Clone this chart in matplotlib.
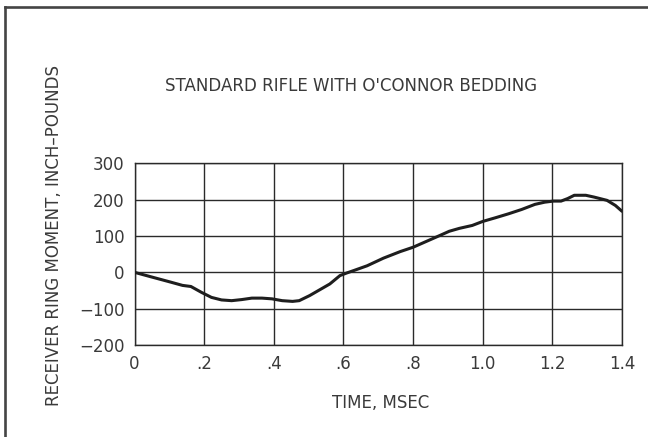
import matplotlib
matplotlib.use("Agg")
import matplotlib.pyplot as plt
from matplotlib.lines import Line2D

# ---- data ----
time_ms = [0, 0.046, 0.104, 0.138, 0.162, 0.192, 0.221, 0.25, 0.279, 0.308,
           0.337, 0.366, 0.395, 0.424, 0.454, 0.473, 0.503, 0.532, 0.561, 0.59,
           0.609, 0.63, 0.668, 0.715, 0.763, 0.8, 0.838, 0.876, 0.904, 0.933,
           0.97, 1.0, 1.036, 1.074, 1.112, 1.15, 1.178, 1.203, 1.225, 1.244,
           1.263, 1.296, 1.32, 1.357, 1.381, 1.4]
moment = [0, -12, -27, -36, -39, -55, -69, -76, -78, -75,
          -71, -71, -73, -78, -80, -78, -64, -48, -32, -9,
          -2, 5, 18, 39, 57, 69, 85, 101, 113, 121,
          129, 140, 150, 161, 173, 187, 193, 196, 196, 203,
          212, 212, 207, 198, 184, 168]
x_ticks = [0, 0.2, 0.4, 0.6, 0.8, 1.0, 1.2, 1.4]
x_tick_labels = ["0", ".2", ".4", ".6", ".8", "1.0", "1.2", "1.4"]
y_ticks = [-200, -100, 0, 100, 200, 300]
y_tick_labels = ["\u2212200", "\u2212100", "0", "100", "200", "300"]
title = "STANDARD RIFLE WITH O'CONNOR BEDDING"
xlabel = "TIME, MSEC"
ylabel = "RECEIVER RING MOMENT, INCH\u2013POUNDS"

FONT = ["DejaVu Sans"]
TXT = "#3a3a3a"
GRID = "#2a2a2a"

fig = plt.figure(figsize=(6.48, 4.37), dpi=100)
fig.patch.set_facecolor("white")

W, H = 648, 437
ax = fig.add_axes([134.5 / W, 1 - 345 / H, (622 - 134.5) / W, (345 - 163.3) / H])

ax.plot(time_ms, moment, color="#1e1e1e", lw=2.2, solid_capstyle="round",
        solid_joinstyle="round", zorder=3)
ax.set_xlim(0, 1.4)
ax.set_ylim(-200, 300)
ax.set_xticks(x_ticks)
ax.set_xticklabels(x_tick_labels)
ax.set_yticks(y_ticks)
ax.set_yticklabels(y_tick_labels)
ax.grid(True, color=GRID, lw=1.0)
ax.tick_params(length=0, pad=7, labelcolor=TXT, labelsize=12)
for lab in ax.get_xticklabels() + ax.get_yticklabels():
    lab.set_family(FONT)
for s in ax.spines.values():
    s.set_color(GRID)
    s.set_linewidth(1.0)

fig.text(351 / W, 1 - 85.7 / H, title, ha="center", va="center",
         fontsize=12, color=TXT, family=FONT)
fig.text(380.5 / W, 1 - 403.3 / H, xlabel, ha="center", va="center",
         fontsize=12, color=TXT, family=FONT)
fig.text(54 / W, 1 - 236 / H, ylabel, ha="center", va="center",
         rotation=90, fontsize=12, color=TXT, family=FONT)

# outer frame (left and top edges)
fig.add_artist(Line2D([5 / W, 5 / W], [0, 1 - 7 / H], transform=fig.transFigure,
                      color="#444444", lw=1.9))
fig.add_artist(Line2D([5 / W, 1], [1 - 7 / H, 1 - 7 / H], transform=fig.transFigure,
                      color="#444444", lw=1.9))

fig.savefig("out.png", dpi=100)
